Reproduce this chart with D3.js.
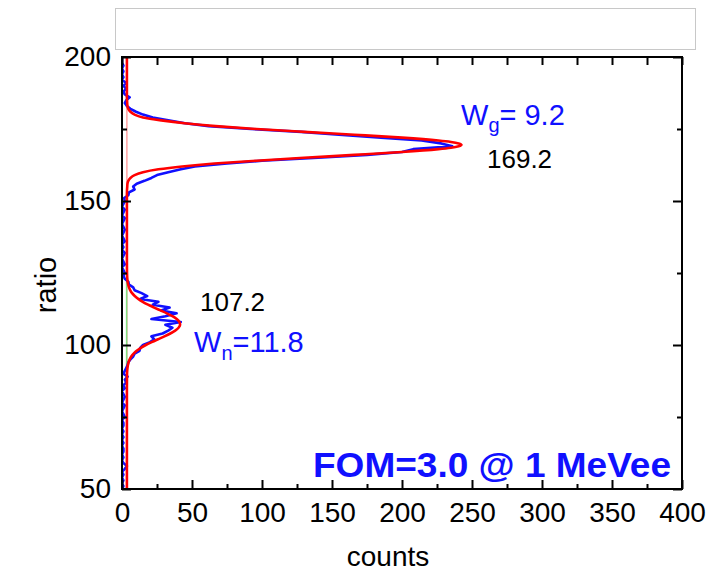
<!DOCTYPE html>
<html><head><meta charset="utf-8">
<script src="https://cdn.jsdelivr.net/npm/d3@7"></script>
<style>body{margin:0;background:#fff} text{font-family:Arial,"Liberation Sans",sans-serif}</style>
</head><body><svg id="c" width="726" height="574"></svg>
<script>
// ---- data ----
const xTicksMajor = [0, 50, 100, 150, 200, 250, 300, 350, 400];
const xTicksMinor = [25, 75, 125, 175, 225, 275, 325, 375];
const yTicksMajor = [50, 100, 150, 200];
const yTicksMinor = [75, 125, 175];
const blueRatioStart = 50;   // measured spectrum: one bin per ratio unit, 50..200
const blueCounts = [
  0,1,0,1,0,1,0,2,3.5,1,
  0,1,0,1,1,0,1,0,1,0,
  1,0,1,1,0,2,1,0,1,2,
  0,1,2,1,0,2,1,3,2,4,
  1,2,3,4,4.5,6,8,9,12.5,13,
  15,20,23,21,29,33,36,31,42,21,
  31,39,28,34,22,26,13,18,14,9,
  8,5,4.5,2,1,2,1,0,2,1,
  0,1,2,0,1,0,2,1,0,1,
  2,1,0,1,2,0,1,2,0,1,
  2,1.5,4.5,5,9,8,10.5,16,21,25,
  33,42,52,75,100,140,175,200,208,236,
  228,214,185,155,128,92,62,45,33,22,
  15,10,6,3.5,2,3,5.5,2,1,3,
  1,3,0,1,0,1,0,1,0,0,0
];
const fitRatio = [50,60,70,80,85,88,90,91,92,93,94,95,96,97,98,99,100,101,102,103,104,105,106,107,108,109,110,111,112,113,114,115,116,117,118,119,120,121,122,123,124,126,130,140,150,152,153,154,155,156,157,158,159,160,161,162,163,164,165,166,167,168,168.5,169,169.5,170,170.5,171,172,173,174,175,176,177,178,179,180,181,182,183,184,185,186,188,190,200];
const fitCounts = [3.5,3.5,3.5,3.5,3.5,3.55,3.6,3.7,3.9,4.2,4.7,5.5,6.6,8.3,10.5,13.5,17,21.2,25.7,30.3,34.5,38,40.4,41.5,41,39.1,36,32,27.5,23,18.6,14.8,11.6,9.1,7.2,5.9,5,4.4,4.0,3.8,3.65,3.55,3.5,3.5,3.5,3.5,3.55,3.6,3.75,3.9,4.5,6,9,15,26,43,66,96,130,166,200,226,235,240.5,242.5,240.5,235,226,200,166,130,96,67,44.7,28,15,9,6,4.5,3.9,3.7,3.6,3.5,3.5,3.5,3.5];
const baselineCounts = 3.5;
const neutronBaseRange = [92, 122];
const labels = {peakG: "169.2", peakN: "107.2", wg: "9.2", wn: "11.8", fom: "FOM=3.0 @ 1 MeVee"};

// ---- layout ----
const svg = d3.select("#c");
const L = 122, R = 682, T = 57, B = 489;
const x = d3.scaleLinear().domain([0, 400]).range([L, R]);
const y = d3.scaleLinear().domain([50, 200]).range([B, T]);

// top empty box
svg.append("rect").attr("x", 115.5).attr("y", 8.5).attr("width", 580).attr("height", 41)
  .attr("fill", "#fff").attr("stroke", "#c8c8c8").attr("stroke-width", 1);

const clipId = "plotclip";
svg.append("clipPath").attr("id", clipId).append("rect")
  .attr("x", L).attr("y", T).attr("width", R - L).attr("height", B - T);
const g = svg.append("g").attr("clip-path", `url(#${clipId})`);

// baseline lines
g.append("line").attr("x1", x(baselineCounts)).attr("x2", x(baselineCounts))
  .attr("y1", y(200)).attr("y2", y(50)).attr("stroke", "#ff8c8c").attr("stroke-width", 1.2);
g.append("line").attr("x1", x(3.3)).attr("x2", x(3.3))
  .attr("y1", y(neutronBaseRange[0])).attr("y2", y(neutronBaseRange[1]))
  .attr("stroke", "#80e080").attr("stroke-width", 1.5);

// blue data
const blueData = blueCounts.map((c, i) => [c, blueRatioStart + i]);
g.append("path").datum(blueData)
  .attr("fill", "none").attr("stroke", "#1010ff").attr("stroke-width", 2.6)
  .attr("stroke-linejoin", "round")
  .attr("d", d3.line().x(d => x(d[0])).y(d => y(d[1])));

// red fit
const fitData = fitRatio.map((r, i) => [fitCounts[i], r]);
g.append("path").datum(fitData)
  .attr("fill", "none").attr("stroke", "#ff0000").attr("stroke-width", 2.6)
  .attr("d", d3.line().curve(d3.curveMonotoneY).x(d => x(d[0])).y(d => y(d[1])));

// axes
function styleAxis(sel) {
  sel.select(".domain").remove();
  sel.selectAll(".tick line").attr("stroke", "#000").attr("stroke-width", 2);
  sel.selectAll(".tick text").attr("fill", "#000").style("font-size", "28px")
    .style("font-family", "Arial, 'Liberation Sans', sans-serif");
}
svg.append("g").attr("transform", `translate(0,${B})`)
  .call(d3.axisBottom(x).tickValues(xTicksMajor).tickSize(-9).tickPadding(13).tickFormat(d3.format("d")))
  .call(styleAxis);
svg.append("g").attr("transform", `translate(0,${B})`)
  .call(d3.axisBottom(x).tickValues(xTicksMinor).tickSize(-5).tickFormat(""))
  .call(styleAxis);
svg.append("g").attr("transform", `translate(${L},0)`)
  .call(d3.axisLeft(y).tickValues(yTicksMajor).tickSize(-9).tickPadding(11).tickFormat(d3.format("d")))
  .call(styleAxis);
svg.append("g").attr("transform", `translate(${L},0)`)
  .call(d3.axisLeft(y).tickValues(yTicksMinor).tickSize(-5).tickFormat(""))
  .call(styleAxis);
svg.append("g").attr("transform", `translate(0,${T})`)
  .call(d3.axisTop(x).tickValues(xTicksMajor.concat(xTicksMinor)).tickSize(-8).tickFormat(""))
  .call(styleAxis);
svg.append("g").attr("transform", `translate(${R},0)`)
  .call(d3.axisRight(y).tickValues(yTicksMajor).tickSize(-9).tickFormat(""))
  .call(styleAxis);
svg.append("g").attr("transform", `translate(${R},0)`)
  .call(d3.axisRight(y).tickValues(yTicksMinor).tickSize(-5).tickFormat(""))
  .call(styleAxis);

// frame
svg.append("rect").attr("x", L).attr("y", T).attr("width", R - L).attr("height", B - T)
  .attr("fill", "none").attr("stroke", "#000").attr("stroke-width", 2);

// axis titles
svg.append("text").attr("x", (L + R) / 2 - 14).attr("y", 566).attr("text-anchor", "middle")
  .style("font-size", "28px").text("counts");
svg.append("text").attr("transform", `translate(56,${(T + B) / 2 + 12}) rotate(-90)`)
  .attr("text-anchor", "middle").style("font-size", "29px").text("ratio");

// annotations
const blue = "#1010ff";
const tg = svg.append("text").attr("x", 461).attr("y", 125).attr("fill", blue).style("font-size", "29px");
tg.append("tspan").text("W");
tg.append("tspan").attr("dy", 7).style("font-size", "20px").text("g");
tg.append("tspan").attr("dy", -7).text("= " + labels.wg);
svg.append("text").attr("x", 487).attr("y", 168).style("font-size", "26px").text(labels.peakG);
svg.append("text").attr("x", 200).attr("y", 311).style("font-size", "26px").text(labels.peakN);
const tn = svg.append("text").attr("x", 194).attr("y", 352).attr("fill", blue).style("font-size", "29px");
tn.append("tspan").text("W");
tn.append("tspan").attr("dy", 8).style("font-size", "20px").text("n");
tn.append("tspan").attr("dy", -8).text("=" + labels.wn);
svg.append("text").attr("x", 313).attr("y", 477).attr("fill", blue)
  .attr("textLength", 358).attr("lengthAdjust", "spacingAndGlyphs")
  .style("font-size", "35px").style("font-weight", "bold").text(labels.fom);
</script></body></html>
